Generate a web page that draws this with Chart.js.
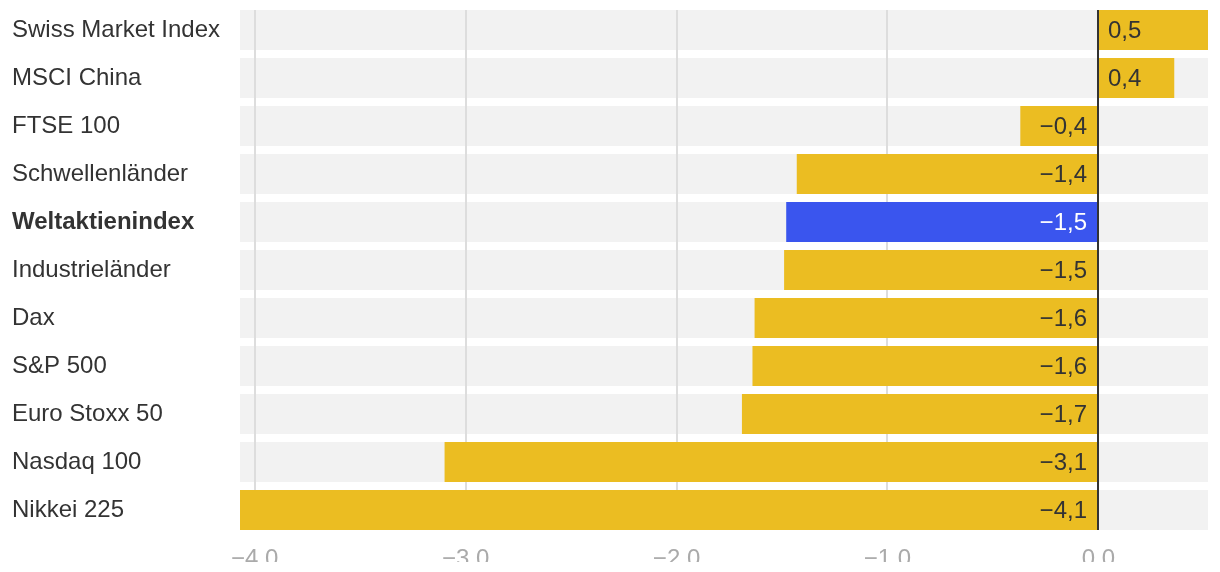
<!DOCTYPE html>
<html>
<head>
<meta charset="utf-8">
<script src="https://cdn.jsdelivr.net/npm/chart.js@4/dist/chart.umd.min.js"></script>
<style>
  html, body { margin: 0; padding: 0; background: #fff; }
  #wrap { width: 1220px; height: 562px; overflow: hidden; }
</style>
</head>
<body>
<div id="wrap"><canvas id="chart" width="1220" height="572"></canvas></div>
<script>
// Data
const categories = ['Swiss Market Index', 'MSCI China', 'FTSE 100', 'Schwellenländer', 'Weltaktienindex',
  'Industrieländer', 'Dax', 'S&P 500', 'Euro Stoxx 50', 'Nasdaq 100', 'Nikkei 225'];
const changes = [0.52, 0.36, -0.37, -1.43, -1.48, -1.49, -1.63, -1.64, -1.69, -3.10, -4.07];
const xTicks = [-4, -3, -2, -1, 0];
const highlight = 'Weltaktienindex';

const FONT = "'Liberation Sans', Helvetica, Arial, sans-serif";
const YELLOW = '#ebbd22';
const BLUE = '#3a55ee';
const hlIndex = categories.indexOf(highlight);

const minus = v => (v < 0 ? '\u2212' : '') + Math.abs(v).toFixed(1);

// gray rows + gridlines under the bars, zero line + value labels on top
const rowsPlugin = {
    id: 'rows',
    beforeDatasetsDraw(chart) {
        const { ctx, chartArea, scales: { x } } = chart;
        const bars = chart.getDatasetMeta(0).data;
        ctx.save();
        ctx.fillStyle = '#f2f2f2';
        bars.forEach(b => {
            ctx.fillRect(chartArea.left, b.y - b.height / 2, chartArea.right - chartArea.left, b.height);
        });
        const top = bars[0].y - bars[0].height / 2;
        const last = bars[bars.length - 1];
        const bottom = last.y + last.height / 2;
        ctx.strokeStyle = '#dddddd';
        ctx.lineWidth = 2;
        x.ticks.forEach(t => {
            const px = Math.round(x.getPixelForValue(t.value));
            ctx.beginPath();
            ctx.moveTo(px, top);
            ctx.lineTo(px, bottom);
            ctx.stroke();
        });
        ctx.restore();
    },
    afterDatasetsDraw(chart) {
        const { ctx, scales: { x } } = chart;
        const bars = chart.getDatasetMeta(0).data;
        const zero = Math.round(x.getPixelForValue(0));
        const top = bars[0].y - bars[0].height / 2;
        const last = bars[bars.length - 1];
        const bottom = last.y + last.height / 2;
        ctx.save();
        ctx.font = '24px ' + FONT;
        ctx.textBaseline = 'middle';
        bars.forEach((b, i) => {
            const v = changes[i];
            const txt = minus(v).replace('.', ',');
            ctx.fillStyle = i === hlIndex ? '#ffffff' : '#333333';
            if (v < 0) {
                ctx.textAlign = 'right';
                ctx.fillText(txt, zero - 11, b.y + 1);
            } else {
                ctx.textAlign = 'left';
                ctx.fillText(txt, zero + 10, b.y + 1);
            }
        });
        ctx.strokeStyle = '#333333';
        ctx.lineWidth = 2;
        ctx.beginPath();
        ctx.moveTo(zero, top);
        ctx.lineTo(zero, bottom);
        ctx.stroke();
        ctx.restore();
    }
};

new Chart(document.getElementById('chart').getContext('2d'), {
    type: 'bar',
    data: {
        labels: categories,
        datasets: [{
            data: changes,
            backgroundColor: categories.map((c, i) => i === hlIndex ? BLUE : YELLOW),
            borderWidth: 0,
            categoryPercentage: 1,
            barPercentage: 40 / 48
        }]
    },
    options: {
        indexAxis: 'y',
        responsive: false,
        animation: false,
        layout: {
            padding: { left: 12, right: 12, top: 6, bottom: 0 }
        },
        scales: {
            x: {
                min: Math.min(...changes),
                max: Math.max(...changes),
                afterBuildTicks: s => { s.ticks = xTicks.map(v => ({ value: v })); },
                afterFit: s => { s.height = 38; },
                grid: { display: false },
                border: { display: false },
                ticks: {
                    color: '#aaaaaa',
                    font: { family: FONT, size: 24 },
                    padding: 3,
                    maxRotation: 0,
                    autoSkip: false,
                    callback: v => minus(v)
                }
            },
            y: {
                grid: { display: false },
                border: { display: false },
                afterFit: s => { s.width = 228; s.paddingTop = 0; s.paddingBottom = 0; },
                ticks: {
                    crossAlign: 'far',
                    color: '#333333',
                    padding: 0,
                    font: ctx => ({
                        family: FONT,
                        size: 24,
                        weight: categories[ctx.index] === highlight ? 'bold' : 'normal'
                    })
                }
            }
        },
        plugins: {
            legend: { display: false },
            tooltip: { enabled: false }
        }
    },
    plugins: [rowsPlugin]
});
</script>
</body>
</html>
